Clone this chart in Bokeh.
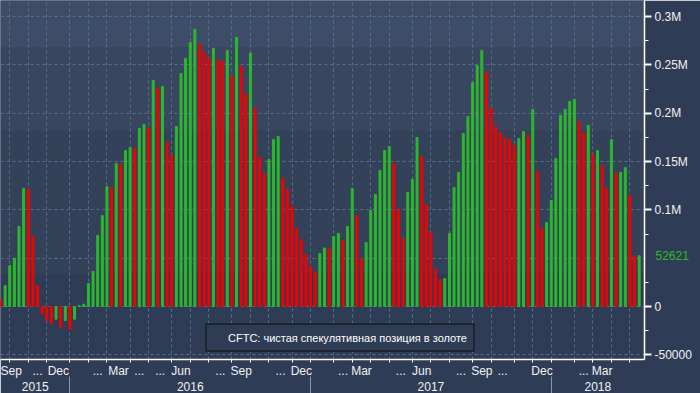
import pandas as pd
from bokeh.plotting import figure
from bokeh.models import (Range1d, FixedTicker, LinearAxis, BoxAnnotation,
                          ColumnDataSource, Legend, LegendItem)
from bokeh.embed import file_html
from bokeh.resources import INLINE

# ---------------- data ----------------
first_week = "2015-09-22"          # weekly CFTC report dates (Tuesdays)
series_name = "CFTC: чистая спекулятивная позиция в золоте"
prior_week_k = 10.0                # week before the first bar (thousand contracts)
net_position_k = [
    7.0, 21.7, 42.4, 50.0, 82.8, 122.0, 121.0, 72.4, 21.7, -7.6,
    -14.5, -17.2, -13.1, -21.4, -14.5, -23.8, -13.1, 1.0, 2.4, 23.8,
    36.2, 73.5, 94.2, 124.0, 122.8, 148.0, 147.0, 161.4, 164.6, 163.9,
    184.2, 188.4, 184.6, 233.9, 226.0, 227.7, 170.0, 156.3, 186.3, 241.0,
    256.7, 273.2, 286.7, 271.5, 263.6, 257.0, 267.0, 255.3, 253.6, 265.0,
    238.4, 278.4, 248.7, 219.8, 262.2, 205.0, 154.2, 137.3, 152.1, 172.8,
    176.0, 132.8, 121.0, 103.5, 81.0, 69.3, 53.8, 41.7, 35.5, 54.9,
    60.6, 60.1, 72.5, 75.6, 68.3, 82.8, 122.1, 94.2, 49.7, 66.2,
    99.4, 115.9, 140.8, 161.4, 165.6, 148.0, 100.0, 70.4, 118.0, 131.4,
    174.9, 155.3, 105.6, 76.6, 38.3, 28.0, 29.0, 75.6, 123.2, 138.7,
    179.0, 196.6, 231.8, 249.4, 265.0, 242.2, 205.0, 186.3, 180.0, 174.9,
    172.8, 166.6, 173.9, 181.1, 177.0, 203.9, 139.7, 80.7, 86.9, 109.7,
    153.2, 197.7, 203.9, 212.2, 214.2, 191.1, 180.0, 187.3, 157.3, 161.4,
    145.9, 122.1, 172.8, 137.6, 138.7, 143.9, 114.9, 52.3, 52.621,
]
last_value = 52621

# month labels, Sep 2015 ... May 2018 (as shown on the chart)
month_text = [
    "Sep", "", "...", "Dec",
    "", "...", "Mar", "...", "...", "Jun", "", "...", "Sep", "", "...", "Dec",
    "", "...", "Mar", "", "...", "Jun", "", "...", "Sep", "...", "", "Dec",
    "", "...", "Mar", "", "",
]
y_grid = [-50000, 0, 50000, 100000, 150000, 200000, 250000, 300000]
y_ticks = [-50000, 0, 100000, 150000, 200000, 250000, 300000]
y_tick_text = ["-50000", "0", "0.1M", "0.15M", "0.2M", "0.25M", "0.3M"]
y_minor = [-25000, 25000, 75000, 125000, 175000, 225000, 275000]

# ---------------- derived ----------------
n = len(net_position_k)
dates = pd.date_range(first_week, periods=n, freq="7D")
idx = list(range(n))
values = [v * 1000 for v in net_position_k]
green, red = "#2db82d", "#f40000"
colors = []
prev = prior_week_k
for v in net_position_k:
    colors.append(green if v > prev else red)
    prev = v

X0, X1 = 0.0, 139.15
Y0, Y1 = -54800, 316600
periods = dates.to_period("M")
starts = [i for i in idx if i == 0 or periods[i] != periods[i - 1]]
month_ticks = starts[1:]
bounds = [X0] + month_ticks + [X1]
m_pos, m_over = [], {}
for k, t in enumerate(month_text):
    if t:
        c = (bounds[k] + bounds[k + 1]) / 2
        m_pos.append(c)
        m_over[c] = t
year_starts = [i for i in month_ticks if dates[i].month == 1]
ybounds = [X0] + year_starts + [X1]
y_pos, y_over = [], {}
for k in range(len(ybounds) - 1):
    c = (ybounds[k] + ybounds[k + 1]) / 2
    y_pos.append(c)
    y_over[c] = str(dates[int(ybounds[k])].year)

src = ColumnDataSource(dict(x=idx, top=values, color=colors))

# ---------------- figure ----------------
W, H = 700, 393
FW, FH = 644, 359
font = "Liberation Sans"
txt = "#f2f2f2"
p = figure(width=W, height=H, x_range=Range1d(X0, X1), y_range=Range1d(Y0, Y1),
           output_backend="svg", toolbar_location=None, y_axis_location="right",
           min_border_left=0, min_border_top=0, min_border_right=W - FW,
           min_border_bottom=H - FH)
p.outline_line_color = None
p.background_fill_color = "#334159"
p.border_fill_color = "#2f3c55"

bands = [(400000, 267900, "#3e4d67"), (267900, 182100, "#38475f"),
         (182100, 34100, "#334159"), (34100, -200000, "#2f3c55")]
for top, bot, col in bands:
    p.add_layout(BoxAnnotation(top=top, bottom=bot, left=-20, right=200, fill_color=col,
                               fill_alpha=1, line_color=None, level="image"))

p.vbar(x="x", top="top", bottom=0, width=0.42, color="color", source=src)

# grids
p.xgrid.ticker = FixedTicker(ticks=month_ticks)
p.ygrid.ticker = FixedTicker(ticks=y_grid)
for g in (p.xgrid, p.ygrid):
    g.grid_line_color = "#52708e"
    g.grid_line_dash = "3 3"
    g.grid_line_width = 1

# month axis
xa = p.xaxis[0]
xa.ticker = FixedTicker(ticks=m_pos, minor_ticks=month_ticks)
xa.major_label_overrides = m_over
xa.axis_line_color = "white"
xa.axis_line_width = 1.5
xa.major_tick_line_color = None
xa.major_tick_out = 0
xa.major_tick_in = 0
xa.minor_tick_line_color = "white"
xa.minor_tick_out = 3
xa.minor_tick_in = 0
xa.major_label_standoff = 1
xa.major_label_text_color = txt
xa.major_label_text_font = font
xa.major_label_text_font_size = "12px"

# year axis
ya2 = LinearAxis(ticker=FixedTicker(ticks=y_pos), major_label_overrides=y_over)
ya2.axis_line_color = None
ya2.major_tick_line_color = None
ya2.major_tick_out = 0
ya2.major_tick_in = 0
ya2.minor_tick_line_color = None
ya2.major_label_standoff = 1
ya2.major_label_text_color = txt
ya2.major_label_text_font = font
ya2.major_label_text_font_size = "12px"
p.add_layout(ya2, "below")

# year separators (ticks pointing up through the year row)
sep = LinearAxis(ticker=FixedTicker(ticks=year_starts))
sep.axis_line_color = None
sep.major_tick_line_color = "#8a96aa"
sep.major_tick_in = 17
sep.major_tick_out = 0
sep.minor_tick_line_color = None
sep.major_label_text_font_size = "0px"
sep.major_label_standoff = 0
sep.major_label_text_color = None
p.add_layout(sep, "below")

# value axis (right)
ya = p.yaxis[0]
ya.ticker = FixedTicker(ticks=y_ticks, minor_ticks=y_minor)
ya.major_label_overrides = dict(zip(y_ticks, y_tick_text))
ya.axis_line_color = "white"
ya.axis_line_width = 1.5
ya.major_tick_line_color = "white"
ya.major_tick_line_width = 2
ya.major_tick_out = 7
ya.major_tick_in = 0
ya.minor_tick_line_color = "white"
ya.minor_tick_out = 4
ya.minor_tick_in = 0
ya.major_label_standoff = 3
ya.major_label_text_color = txt
ya.major_label_text_font = font
ya.major_label_text_font_size = "12px"

# last-value tag (second right axis, label pulled back over the first)
tag_axis = LinearAxis(ticker=FixedTicker(ticks=[last_value]),
                      major_label_overrides={last_value: str(last_value)})
tag_axis.axis_line_color = None
tag_axis.major_tick_line_color = None
tag_axis.minor_tick_line_color = None
tag_axis.major_tick_out = 0
tag_axis.major_tick_in = 0
tag_axis.major_label_standoff = -39
tag_axis.major_label_text_font = font
tag_axis.major_label_text_font_size = "12px"
if hasattr(tag_axis, "major_label_background_fill_color"):
    tag_axis.major_label_background_fill_color = green
    tag_axis.major_label_text_color = "black"
    for name, val in (("major_label_background_fill_alpha", 1.0),
                      ("major_label_padding", 3)):
        if hasattr(tag_axis, name):
            try:
                setattr(tag_axis, name, val)
            except Exception:
                pass
else:
    tag_axis.major_label_text_color = green
p.add_layout(tag_axis, "right")

# legend
leg_r = p.vbar(x=[], top=[], width=0.42, color=green)
legend = Legend(items=[LegendItem(label=series_name, renderers=[leg_r])],
                location=(205, 7), orientation="horizontal")
legend.background_fill_color = "#2f3c55"
legend.background_fill_alpha = 1
legend.border_line_color = "#0d0d0d"
legend.border_line_width = 2
legend.label_text_color = "white"
legend.label_text_font = font
legend.label_text_font_size = "11px"
legend.glyph_width = 10
legend.glyph_height = 10
legend.label_height = 13
legend.label_standoff = 5
legend.padding = 6
legend.margin = 0
legend.spacing = 0
p.add_layout(legend)

open("out.html", "w").write(file_html(p, INLINE))
